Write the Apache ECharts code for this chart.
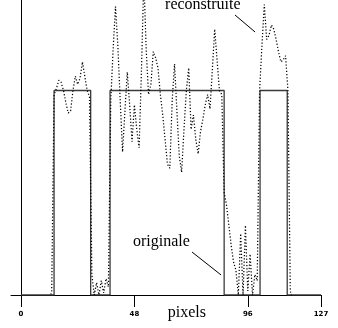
<!DOCTYPE html>
<html>
<head>
<meta charset="utf-8">
<script src="https://cdn.jsdelivr.net/npm/echarts@6/dist/echarts.min.js"></script>
<style>
html, body { margin: 0; padding: 0; background: #fff; }
#main { width: 338px; height: 328px; }
</style>
</head>
<body>
<div id="main"></div>
<script>
// graduations de l'axe des x
var xTicks = [0, 48, 96, 127];

// signal original : trois creneaux
var pulseStart = [14, 37.7, 101.2];
var pulseEnd = [29.5, 86, 112.7];
var pulseLevel = 1;

// signal reconstruit, un point par pixel (0..127)
var reconstruite = [
	-0.03, -0.03, -0.03, -0.03, -0.03, -0.03, -0.03, -0.03, -0.03, -0.03,
	-0.03, -0.03, -0.03, 0.02, 0.98, 1.01, 1.05, 1.04, 1.0, 0.94,
	0.89, 0.90, 1.0, 1.07, 1.03, 1.06, 1.14, 1.07, 1.0, 0.97,
	0.1, 0.0, 0.06, 0.0, 0.07, 0.01, 0.08, 0.04, 0.95, 1.2,
	1.41, 1.22, 0.95, 0.70, 0.9, 1.09, 0.93, 0.75, 0.93, 0.81,
	0.72, 1.1, 1.55, 1.2, 0.98, 1.03, 1.19, 1.16, 1.11, 0.98,
	0.88, 0.76, 0.64, 0.62, 0.95, 1.13, 0.9, 0.68, 0.6, 0.81,
	1.0, 1.11, 0.81, 0.88, 0.76, 0.69, 0.8, 0.86, 0.93, 0.98,
	0.91, 1.1, 1.3, 1.15, 1.0, 0.98, 0.5, 0.44, 0.34, 0.24,
	0.16, 0.12, 0.0, 0.3, 0.0, 0.34, 0.02, 0.2, 0.0, 0.1,
	0.07, 1.0, 1.22, 1.42, 1.25, 1.27, 1.32, 1.3, 1.25, 1.19,
	1.14, 1.15, 1.17, 1.0, 0.02, -0.03, -0.03, -0.03, -0.03, -0.03,
	-0.03, -0.03, -0.03, -0.03, -0.03, -0.03, -0.03, -0.03
];

// annotations (en unites des axes)
var labelNames = ['reconstruite', 'originale', 'pixels'];
var labelAt = [[61.0, 1.418], [47.4, 0.262], [70.2, -0.087]];
var labelAlign = ['left', 'left', 'center'];
var leaders = [
	[[90.6, 1.369], [99.1, 1.286]],
	[[72.4, 0.210], [84.7, 0.098]]
];

var serif = "'Liberation Serif', 'DejaVu Serif', serif";

// construction du signal en creneaux
var originale = [[0, 0]];
for (var i = 0; i < pulseStart.length; i++) {
	originale.push([pulseStart[i], 0]);
	originale.push([pulseStart[i], pulseLevel]);
	originale.push([pulseEnd[i], pulseLevel]);
	originale.push([pulseEnd[i], 0]);
}
originale.push([127, 0]);

var myChart = echarts.init(document.getElementById('main'));

var option = {
	animation : false,
	grid : {
		left : 11,
		right : 17,
		top : 0,
		bottom : 33
	},
	xAxis : {
		type : 'value',
		min : -4.23,
		max : 127,
		axisLine : {
			onZero : false,
			lineStyle : { color : '#000', width : 1 }
		},
		axisTick : {
			customValues : xTicks,
			length : 12,
			lineStyle : { color : '#000', width : 1 }
		},
		axisLabel : {
			customValues : xTicks,
			margin : 16,
			fontSize : 7,
			fontWeight : 'bold',
			fontFamily : 'DejaVu Sans',
			color : '#000'
		},
		splitLine : { show : false }
	},
	yAxis : {
		type : 'value',
		min : 0,
		max : 1.4425,
		axisLine : {
			show : true,
			onZero : true,
			lineStyle : { color : '#000', width : 1 }
		},
		axisTick : { show : false },
		axisLabel : { show : false },
		splitLine : { show : false }
	},
	series : [ {
		name : 'originale',
		type : 'line',
		data : originale,
		symbol : 'none',
		lineStyle : { color : '#3a3a3a', width : 1.3 },
		z : 2
	}, {
		name : 'reconstruite',
		type : 'line',
		data : reconstruite.map(function(v, k) { return [k, v]; }),
		symbol : 'none',
		clip : true,
		lineStyle : { color : '#000', width : 1.25, type : [1.2, 2] },
		z : 3
	} ]
};

myChart.setOption(option);

// textes et traits de rappel
var elements = [];
for (var j = 0; j < labelNames.length; j++) {
	var p = myChart.convertToPixel({ xAxisIndex : 0, yAxisIndex : 0 }, labelAt[j]);
	elements.push({
		type : 'text',
		x : p[0],
		y : p[1],
		style : {
			text : labelNames[j],
			font : '16px ' + serif,
			fill : '#000',
			align : labelAlign[j],
			verticalAlign : 'middle'
		}
	});
}
for (var m = 0; m < leaders.length; m++) {
	var a = myChart.convertToPixel({ xAxisIndex : 0, yAxisIndex : 0 }, leaders[m][0]);
	var b = myChart.convertToPixel({ xAxisIndex : 0, yAxisIndex : 0 }, leaders[m][1]);
	elements.push({
		type : 'line',
		shape : { x1 : a[0], y1 : a[1], x2 : b[0], y2 : b[1] },
		style : { stroke : '#000', lineWidth : 1 }
	});
}
myChart.setOption({ graphic : elements });
</script>
</body>
</html>
